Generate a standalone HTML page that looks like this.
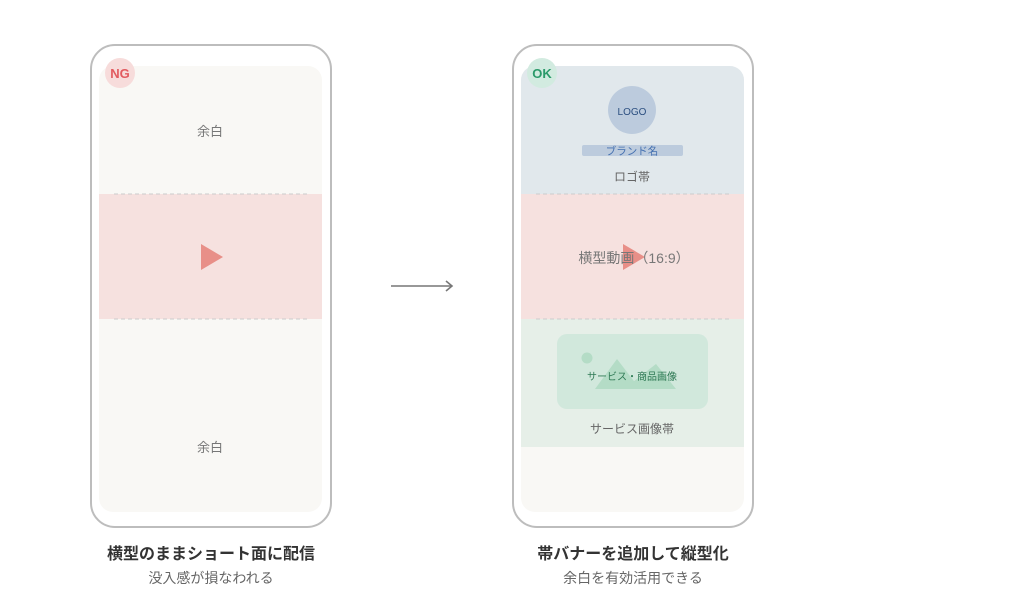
<!DOCTYPE html>
<html><head><meta charset="utf-8">
<style>
html,body{margin:0;padding:0;background:#fff;}
svg{display:block;}
text{font-family:"Liberation Sans","Noto Sans CJK JP",sans-serif;}
</style></head>
<body>
<svg width="1024" height="603" viewBox="0 0 1024 603" xmlns="http://www.w3.org/2000/svg">
<defs>
<clipPath id="cl"><rect x="99" y="66" width="223" height="446" rx="14"/></clipPath>
<clipPath id="cr"><rect x="521" y="66" width="223" height="446" rx="14"/></clipPath>
</defs>
<rect x="91" y="45" width="240" height="482" rx="24" fill="#fff" stroke="#bdbdbd" stroke-width="2"/>
<g clip-path="url(#cl)">
<rect x="99" y="66" width="223" height="446" fill="#f9f8f5"/>
<rect x="99" y="194" width="223" height="125" fill="#f6e1df"/>
</g>
<line x1="114" y1="194" x2="308" y2="194" stroke="#ccc" stroke-dasharray="4,3"/>
<line x1="114" y1="319" x2="308" y2="319" stroke="#ccc" stroke-dasharray="4,3"/>
<polygon points="201,244 223,257 201,270" fill="#e88f88"/>
<text x="210" y="136" font-size="13" fill="#777" text-anchor="middle">余白</text>
<text x="210" y="452" font-size="13" fill="#777" text-anchor="middle">余白</text>
<circle cx="120" cy="73" r="15" fill="#f7dcdb"/>
<text x="120" y="78" font-size="13" font-weight="bold" fill="#e25a5f" text-anchor="middle">NG</text>

<line x1="391" y1="286" x2="452" y2="286" stroke="#777" stroke-width="1.6"/>
<polyline points="446,281 452,286 446,291" fill="none" stroke="#777" stroke-width="1.6"/>

<rect x="513" y="45" width="240" height="482" rx="24" fill="#fff" stroke="#bdbdbd" stroke-width="2"/>
<g clip-path="url(#cr)">
<rect x="521" y="66" width="223" height="446" fill="#f9f8f5"/>
<rect x="521" y="60" width="223" height="134" fill="#e1e8ec"/>
<rect x="521" y="194" width="223" height="125" fill="#f6e1df"/>
<rect x="521" y="319" width="223" height="128" fill="#e6efe8"/>
</g>
<line x1="536" y1="194" x2="730" y2="194" stroke="#ccc" stroke-dasharray="4,3"/>
<line x1="536" y1="319" x2="730" y2="319" stroke="#ccc" stroke-dasharray="4,3"/>
<circle cx="632" cy="110" r="24" fill="#bccbdd"/>
<text x="632" y="115" font-size="10" fill="#2c4f80" text-anchor="middle">LOGO</text>
<rect x="582" y="145" width="101" height="11" rx="2" fill="#bccbdd"/>
<text x="632" y="154.5" font-size="10.5" fill="#4470b0" text-anchor="middle">ブランド名</text>
<text x="632" y="181" font-size="12" fill="#666" text-anchor="middle">ロゴ帯</text>
<polygon points="623,244 645,257 623,270" fill="#e88f88"/>
<text x="634" y="263" font-size="14" fill="#777" text-anchor="middle">横型動画（16:9）</text>
<rect x="557" y="334" width="151" height="75" rx="10" fill="#d1e8dc"/>
<circle cx="587" cy="358" r="5.5" fill="#b4dcc6"/>
<polygon points="595,389 617,359 640,389" fill="#b4dcc6"/>
<polygon points="624,389 656,364 676,389" fill="#b4dcc6"/>
<text x="632" y="380" font-size="10" fill="#2f7a55" text-anchor="middle">サービス・商品画像</text>
<text x="632" y="433" font-size="12" fill="#666" text-anchor="middle">サービス画像帯</text>
<circle cx="542" cy="73" r="15" fill="#d2ebe0"/>
<text x="542" y="78" font-size="13" font-weight="bold" fill="#2b9a6a" text-anchor="middle">OK</text>

<text x="211" y="559" font-size="16" font-weight="bold" fill="#333" text-anchor="middle">横型のままショート面に配信</text>
<text x="211" y="583" font-size="14" fill="#666" text-anchor="middle">没入感が損なわれる</text>
<text x="633" y="559" font-size="16" font-weight="bold" fill="#333" text-anchor="middle">帯バナーを追加して縦型化</text>
<text x="633" y="583" font-size="14" fill="#666" text-anchor="middle">余白を有効活用できる</text>
</svg>
</body></html>
